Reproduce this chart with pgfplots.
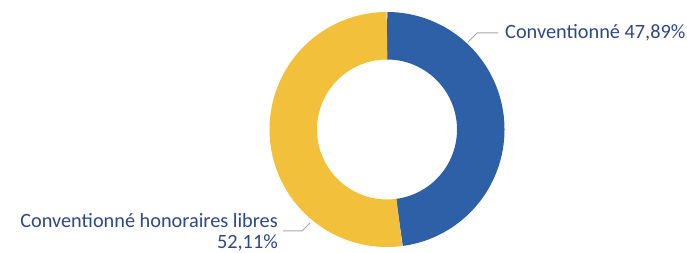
\documentclass[border=0pt]{standalone}
\usepackage{pgfplots}
\pgfplotsset{compat=1.18}
\usepackage{fontspec}
\setmainfont{Carlito}
\definecolor{cblue}{RGB}{46,96,168}
\definecolor{cyellow}{RGB}{242,192,58}
\definecolor{ctext}{RGB}{44,72,140}
\definecolor{cline}{RGB}{166,166,166}
\pgfmathsetmacro{\pconv}{47.89}
\pgfmathsetmacro{\plib}{52.11}
\pgfmathsetmacro{\split}{90-\pconv*3.6}
\begin{document}
\begin{tikzpicture}
\begin{axis}[
  scale only axis, width=687pt, height=253pt,
  xmin=0, xmax=687, ymin=0, ymax=253,
  hide axis, clip=false,
]
% donut: ring between radius 70 and 117.5, centre (387,123.5)
\addplot[draw=cblue, line width=47.5pt, line cap=butt, domain=\split:90, samples=120, variable=\t, no markers]
  ({387+93.75*cos(\t)},{123.5+93.75*sin(\t)});
\addplot[draw=cyellow, line width=47.5pt, line cap=butt, domain=-270:\split, samples=120, variable=\t, no markers]
  ({387+93.75*cos(\t)},{123.5+93.75*sin(\t)});
% leader lines
\addplot[cline, line width=1pt, no markers] coordinates {(468,211) (477,220) (498,220)};
\addplot[cline, line width=1pt, no markers] coordinates {(283,22) (302,22) (310,30)};
\node[anchor=base west, text=ctext, font=\fontsize{20.3}{24}\selectfont, inner sep=0pt] at (axis cs:505,214) {Conventionné 47,89\%};
\node[anchor=base east, text=ctext, font=\fontsize{20.3}{24}\selectfont, inner sep=0pt] at (axis cs:278,25) {Conventionné honoraires libres};
\node[anchor=base east, text=ctext, font=\fontsize{20.3}{24}\selectfont, inner sep=0pt] at (axis cs:278,4) {52,11\%};
\end{axis}
\pgfresetboundingbox
\path (current axis.south west) rectangle (current axis.north east);
\end{tikzpicture}
\end{document}
